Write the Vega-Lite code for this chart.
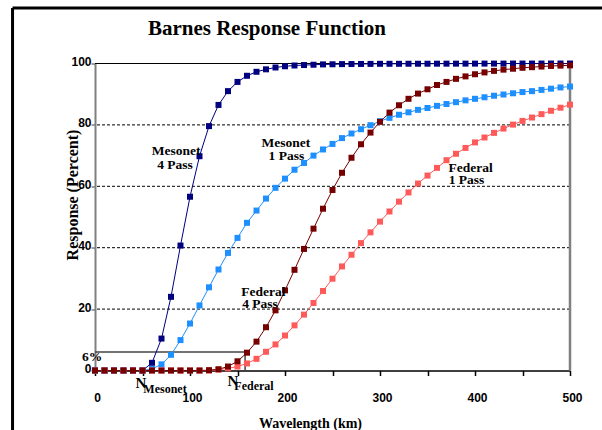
{
  "$schema": "https://vega.github.io/schema/vega-lite/v6.json",
  "width": 475,
  "height": 307,
  "autosize": "none",
  "padding": {"left": 95, "top": 63.5, "right": 32, "bottom": 59.5},
  "background": "white",
  "config": {"view": {"stroke": null}},
  "datasets": {
    "curves": [
      {"x":0,"y":0,"s":"M4"},{"x":10,"y":0,"s":"M4"},{"x":20,"y":0,"s":"M4"},{"x":30,"y":0,"s":"M4"},{"x":40,"y":0,"s":"M4"},{"x":50,"y":0,"s":"M4"},{"x":60,"y":2.5,"s":"M4"},{"x":70,"y":10.4,"s":"M4"},{"x":80,"y":24,"s":"M4"},{"x":90,"y":40.7,"s":"M4"},{"x":100,"y":56.6,"s":"M4"},{"x":110,"y":69.8,"s":"M4"},{"x":120,"y":79.6,"s":"M4"},{"x":130,"y":86.5,"s":"M4"},{"x":140,"y":91,"s":"M4"},{"x":150,"y":94,"s":"M4"},{"x":160,"y":96,"s":"M4"},{"x":170,"y":97.3,"s":"M4"},{"x":180,"y":98.1,"s":"M4"},{"x":190,"y":98.7,"s":"M4"},{"x":200,"y":99.1,"s":"M4"},{"x":210,"y":99.35,"s":"M4"},{"x":220,"y":99.5,"s":"M4"},{"x":230,"y":99.6,"s":"M4"},{"x":240,"y":99.7,"s":"M4"},{"x":250,"y":99.75,"s":"M4"},{"x":260,"y":99.8,"s":"M4"},{"x":270,"y":99.82,"s":"M4"},{"x":280,"y":99.85,"s":"M4"},{"x":290,"y":99.87,"s":"M4"},{"x":300,"y":99.9,"s":"M4"},{"x":310,"y":99.9,"s":"M4"},{"x":320,"y":99.9,"s":"M4"},{"x":330,"y":99.92,"s":"M4"},{"x":340,"y":99.92,"s":"M4"},{"x":350,"y":99.93,"s":"M4"},{"x":360,"y":99.94,"s":"M4"},{"x":370,"y":99.95,"s":"M4"},{"x":380,"y":99.95,"s":"M4"},{"x":390,"y":99.96,"s":"M4"},{"x":400,"y":99.96,"s":"M4"},{"x":410,"y":99.97,"s":"M4"},{"x":420,"y":99.97,"s":"M4"},{"x":430,"y":99.97,"s":"M4"},{"x":440,"y":99.98,"s":"M4"},{"x":450,"y":99.98,"s":"M4"},{"x":460,"y":99.98,"s":"M4"},{"x":470,"y":99.98,"s":"M4"},{"x":480,"y":99.99,"s":"M4"},{"x":490,"y":99.99,"s":"M4"},{"x":500,"y":99.99,"s":"M4"},
      {"x":0,"y":0,"s":"M1"},{"x":10,"y":0,"s":"M1"},{"x":20,"y":0,"s":"M1"},{"x":30,"y":0,"s":"M1"},{"x":40,"y":0,"s":"M1"},{"x":50,"y":0,"s":"M1"},{"x":60,"y":0.5,"s":"M1"},{"x":70,"y":2.0,"s":"M1"},{"x":80,"y":5.1,"s":"M1"},{"x":90,"y":9.9,"s":"M1"},{"x":100,"y":15.3,"s":"M1"},{"x":110,"y":21.2,"s":"M1"},{"x":120,"y":27.1,"s":"M1"},{"x":130,"y":32.9,"s":"M1"},{"x":140,"y":38.3,"s":"M1"},{"x":150,"y":43.2,"s":"M1"},{"x":160,"y":48.1,"s":"M1"},{"x":170,"y":52.1,"s":"M1"},{"x":180,"y":56.0,"s":"M1"},{"x":190,"y":59.5,"s":"M1"},{"x":200,"y":62.5,"s":"M1"},{"x":210,"y":65.4,"s":"M1"},{"x":220,"y":67.6,"s":"M1"},{"x":230,"y":70.0,"s":"M1"},{"x":240,"y":72.0,"s":"M1"},{"x":250,"y":73.8,"s":"M1"},{"x":260,"y":75.7,"s":"M1"},{"x":270,"y":77.2,"s":"M1"},{"x":280,"y":78.6,"s":"M1"},{"x":290,"y":79.9,"s":"M1"},{"x":300,"y":81.2,"s":"M1"},{"x":310,"y":82.3,"s":"M1"},{"x":320,"y":83.3,"s":"M1"},{"x":330,"y":84.1,"s":"M1"},{"x":340,"y":84.9,"s":"M1"},{"x":350,"y":85.5,"s":"M1"},{"x":360,"y":86.2,"s":"M1"},{"x":370,"y":86.8,"s":"M1"},{"x":380,"y":87.4,"s":"M1"},{"x":390,"y":88.0,"s":"M1"},{"x":400,"y":88.5,"s":"M1"},{"x":410,"y":89.0,"s":"M1"},{"x":420,"y":89.5,"s":"M1"},{"x":430,"y":89.9,"s":"M1"},{"x":440,"y":90.3,"s":"M1"},{"x":450,"y":90.7,"s":"M1"},{"x":460,"y":91.0,"s":"M1"},{"x":470,"y":91.4,"s":"M1"},{"x":480,"y":91.8,"s":"M1"},{"x":490,"y":92.2,"s":"M1"},{"x":500,"y":92.5,"s":"M1"},
      {"x":0,"y":0,"s":"F1"},{"x":10,"y":0,"s":"F1"},{"x":20,"y":0,"s":"F1"},{"x":30,"y":0,"s":"F1"},{"x":40,"y":0,"s":"F1"},{"x":50,"y":0,"s":"F1"},{"x":60,"y":0,"s":"F1"},{"x":70,"y":0,"s":"F1"},{"x":80,"y":0,"s":"F1"},{"x":90,"y":0,"s":"F1"},{"x":100,"y":0,"s":"F1"},{"x":110,"y":0,"s":"F1"},{"x":120,"y":0,"s":"F1"},{"x":130,"y":0.3,"s":"F1"},{"x":140,"y":0.7,"s":"F1"},{"x":150,"y":1.3,"s":"F1"},{"x":160,"y":2.3,"s":"F1"},{"x":170,"y":3.8,"s":"F1"},{"x":180,"y":6.1,"s":"F1"},{"x":190,"y":8.5,"s":"F1"},{"x":200,"y":11.4,"s":"F1"},{"x":210,"y":14.7,"s":"F1"},{"x":220,"y":18.2,"s":"F1"},{"x":230,"y":22.0,"s":"F1"},{"x":240,"y":25.9,"s":"F1"},{"x":250,"y":29.9,"s":"F1"},{"x":260,"y":33.9,"s":"F1"},{"x":270,"y":37.7,"s":"F1"},{"x":280,"y":41.5,"s":"F1"},{"x":290,"y":45.0,"s":"F1"},{"x":300,"y":48.5,"s":"F1"},{"x":310,"y":51.8,"s":"F1"},{"x":320,"y":55.0,"s":"F1"},{"x":330,"y":58.0,"s":"F1"},{"x":340,"y":60.9,"s":"F1"},{"x":350,"y":63.5,"s":"F1"},{"x":360,"y":66.0,"s":"F1"},{"x":370,"y":68.5,"s":"F1"},{"x":380,"y":70.6,"s":"F1"},{"x":390,"y":72.5,"s":"F1"},{"x":400,"y":74.3,"s":"F1"},{"x":410,"y":75.9,"s":"F1"},{"x":420,"y":77.4,"s":"F1"},{"x":430,"y":78.8,"s":"F1"},{"x":440,"y":80.1,"s":"F1"},{"x":450,"y":81.3,"s":"F1"},{"x":460,"y":82.4,"s":"F1"},{"x":470,"y":83.5,"s":"F1"},{"x":480,"y":84.6,"s":"F1"},{"x":490,"y":85.6,"s":"F1"},{"x":500,"y":86.6,"s":"F1"},
      {"x":0,"y":0,"s":"F4"},{"x":10,"y":0,"s":"F4"},{"x":20,"y":0,"s":"F4"},{"x":30,"y":0,"s":"F4"},{"x":40,"y":0,"s":"F4"},{"x":50,"y":0,"s":"F4"},{"x":60,"y":0,"s":"F4"},{"x":70,"y":0,"s":"F4"},{"x":80,"y":0,"s":"F4"},{"x":90,"y":0,"s":"F4"},{"x":100,"y":0,"s":"F4"},{"x":110,"y":0,"s":"F4"},{"x":120,"y":0.1,"s":"F4"},{"x":130,"y":0.4,"s":"F4"},{"x":140,"y":1.3,"s":"F4"},{"x":150,"y":3.0,"s":"F4"},{"x":160,"y":5.8,"s":"F4"},{"x":170,"y":9.4,"s":"F4"},{"x":180,"y":14.1,"s":"F4"},{"x":190,"y":19.6,"s":"F4"},{"x":200,"y":26.1,"s":"F4"},{"x":210,"y":32.8,"s":"F4"},{"x":220,"y":39.6,"s":"F4"},{"x":230,"y":46.2,"s":"F4"},{"x":240,"y":52.7,"s":"F4"},{"x":250,"y":58.8,"s":"F4"},{"x":260,"y":64.4,"s":"F4"},{"x":270,"y":69.3,"s":"F4"},{"x":280,"y":73.7,"s":"F4"},{"x":290,"y":77.5,"s":"F4"},{"x":300,"y":81.0,"s":"F4"},{"x":310,"y":84.0,"s":"F4"},{"x":320,"y":86.4,"s":"F4"},{"x":330,"y":88.5,"s":"F4"},{"x":340,"y":90.2,"s":"F4"},{"x":350,"y":91.6,"s":"F4"},{"x":360,"y":93.0,"s":"F4"},{"x":370,"y":94.0,"s":"F4"},{"x":380,"y":95.0,"s":"F4"},{"x":390,"y":95.8,"s":"F4"},{"x":400,"y":96.5,"s":"F4"},{"x":410,"y":97.1,"s":"F4"},{"x":420,"y":97.6,"s":"F4"},{"x":430,"y":98.0,"s":"F4"},{"x":440,"y":98.3,"s":"F4"},{"x":450,"y":98.6,"s":"F4"},{"x":460,"y":98.8,"s":"F4"},{"x":470,"y":99.0,"s":"F4"},{"x":480,"y":99.2,"s":"F4"},{"x":490,"y":99.3,"s":"F4"},{"x":500,"y":99.4,"s":"F4"}
    ],
    "grid": [{"y": 20}, {"y": 40}, {"y": 60}, {"y": 80}],
    "top": [{"y": 100}],
    "right": [{"x": 500}],
    "guides": [{"x": 0, "y": 6, "x2": 158, "y2": 6}, {"x": 158, "y": 6, "x2": 158, "y2": 0}],
    "frame": [{"x": -86.8, "y": 118.1, "x2": 545, "y2": 118.1}, {"x": -86.8, "y": 118.1, "x2": -86.8, "y2": -25}],
    "titletext": [{"x": 181, "y": 111.3, "t": "Barnes Response Function"}],
    "labels": [
      {"x": 85.3, "y": 71.4, "t": "Mesonet"},
      {"x": 84.2, "y": 66.9, "t": "4 Pass"},
      {"x": 201, "y": 74.1, "t": "Mesonet"},
      {"x": 201.5, "y": 70.0, "t": "1 Pass"},
      {"x": 395.3, "y": 66.1, "t": "Federal"},
      {"x": 391, "y": 62.2, "t": "1 Pass"},
      {"x": 177.3, "y": 25.5, "t": "Federal"},
      {"x": 173.7, "y": 21.5, "t": "4 Pass"},
      {"x": -3, "y": 4.3, "t": "6%"}
    ],
    "nlabels": [
      {"x": 48.4, "y": -4.2, "t": "N"},
      {"x": 145.3, "y": -3.5, "t": "N"}
    ],
    "sublabels": [
      {"x": 73.7, "y": -5.9, "t": "Mesonet"},
      {"x": 167.4, "y": -4.9, "t": "Federal"}
    ]
  },
  "layer": [
    {
      "data": {"name": "grid"},
      "mark": {"type": "rule", "color": "black", "strokeWidth": 1, "strokeDash": [3, 2]},
      "encoding": {
        "y": {
          "field": "y", "type": "quantitative",
          "scale": {"domain": [0, 100], "nice": false},
          "axis": {
            "title": "Response (Percent)",
            "values": [0, 10, 20, 30, 40, 50, 60, 70, 80, 90, 100],
            "labelExpr": "datum.value % 20 == 0 ? datum.label : ''",
            "grid": false,
            "domainColor": "#808080", "domainWidth": 2,
            "tickColor": "#404040", "tickWidth": 1, "tickSize": 4,
            "labelFont": "Liberation Sans", "labelFontWeight": "bold", "labelFontSize": 12, "labelColor": "black",
            "labelPadding": 0, "labelOffset": -2,
            "titleFont": "Liberation Serif", "titleFontWeight": "bold", "titleFontSize": 16, "titleColor": "black",
            "titleX": -23, "titleY": 131, "titleBaseline": "middle", "titleAlign": "center"
          }
        }
      }
    },
    {
      "data": {"name": "top"},
      "mark": {"type": "rule", "color": "black", "strokeWidth": 1},
      "encoding": {"y": {"field": "y", "type": "quantitative"}}
    },
    {
      "data": {"name": "right"},
      "mark": {"type": "rule", "color": "#808080", "strokeWidth": 2.5},
      "encoding": {
        "x": {
          "field": "x", "type": "quantitative",
          "scale": {"domain": [0, 500], "nice": false, "zero": false},
          "axis": {
            "title": "Wavelength (km)",
            "values": [0, 50, 100, 150, 200, 250, 300, 350, 400, 450, 500],
            "labelExpr": "datum.value % 100 == 0 ? datum.label : ''",
            "labelFlush": false,
            "grid": false,
            "domainColor": "black", "domainWidth": 1.5,
            "tickColor": "black", "tickWidth": 1.5, "tickSize": 5,
            "labelFont": "Liberation Sans", "labelFontWeight": "bold", "labelFontSize": 12, "labelColor": "black",
            "labelPadding": 17, "labelOffset": 2,
            "titleFont": "Liberation Serif", "titleFontWeight": "bold", "titleFontSize": 14, "titleColor": "black",
            "titleX": 215, "titleY": 53, "titleBaseline": "middle"
          }
        }
      }
    },
    {
      "data": {"name": "guides"},
      "mark": {"type": "rule", "color": "#444444", "strokeWidth": 1.5},
      "encoding": {
        "x": {"field": "x", "type": "quantitative"},
        "y": {"field": "y", "type": "quantitative"},
        "x2": {"field": "x2"},
        "y2": {"field": "y2"}
      }
    },
    {
      "data": {"name": "frame"},
      "mark": {"type": "rule", "color": "black", "strokeWidth": 3, "clip": false},
      "encoding": {
        "x": {"field": "x", "type": "quantitative"},
        "y": {"field": "y", "type": "quantitative"},
        "x2": {"field": "x2"},
        "y2": {"field": "y2"}
      }
    },
    {
      "data": {"name": "curves"},
      "mark": {"type": "line", "strokeWidth": 1, "point": {"shape": "square", "size": 36, "filled": true, "opacity": 1}},
      "encoding": {
        "x": {"field": "x", "type": "quantitative"},
        "y": {"field": "y", "type": "quantitative"},
        "color": {
          "field": "s", "type": "nominal",
          "scale": {"domain": ["M4", "M1", "F1", "F4"], "range": ["#000080", "#1E8FFF", "#FF5A5A", "#760000"]},
          "legend": null
        }
      }
    },
    {
      "data": {"name": "titletext"},
      "mark": {"type": "text", "font": "Liberation Serif", "fontWeight": "bold", "fontSize": 21, "color": "black", "align": "center", "baseline": "middle", "clip": false},
      "encoding": {
        "x": {"field": "x", "type": "quantitative"},
        "y": {"field": "y", "type": "quantitative"},
        "text": {"field": "t"}
      }
    },
    {
      "data": {"name": "labels"},
      "mark": {"type": "text", "font": "Liberation Serif", "fontWeight": "bold", "fontSize": 13.5, "color": "black", "align": "center", "baseline": "middle", "clip": false},
      "encoding": {
        "x": {"field": "x", "type": "quantitative"},
        "y": {"field": "y", "type": "quantitative"},
        "text": {"field": "t"}
      }
    },
    {
      "data": {"name": "nlabels"},
      "mark": {"type": "text", "font": "Liberation Serif", "fontWeight": "bold", "fontSize": 15, "color": "black", "align": "center", "baseline": "middle", "clip": false},
      "encoding": {
        "x": {"field": "x", "type": "quantitative"},
        "y": {"field": "y", "type": "quantitative"},
        "text": {"field": "t"}
      }
    },
    {
      "data": {"name": "sublabels"},
      "mark": {"type": "text", "font": "Liberation Serif", "fontWeight": "bold", "fontSize": 12, "color": "black", "align": "center", "baseline": "middle", "clip": false},
      "encoding": {
        "x": {"field": "x", "type": "quantitative"},
        "y": {"field": "y", "type": "quantitative"},
        "text": {"field": "t"}
      }
    }
  ]
}
